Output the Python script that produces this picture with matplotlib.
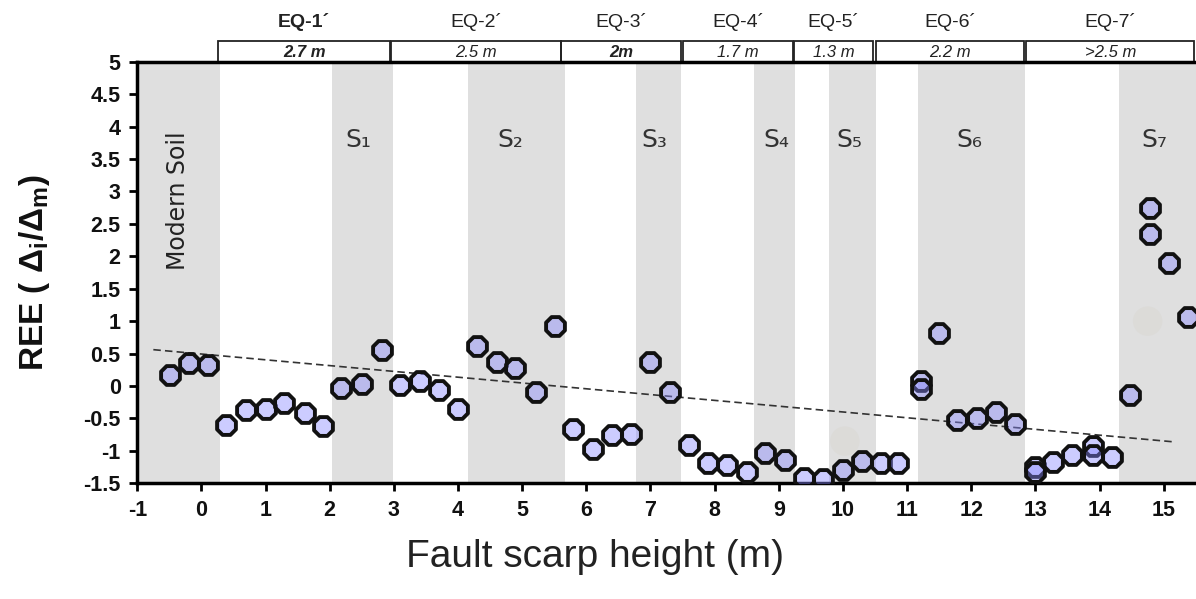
import matplotlib
matplotlib.use("Agg")
import matplotlib.pyplot as plt
from matplotlib.patches import Rectangle
import matplotlib.transforms as mtransforms

plt.rcParams['font.family'] = ['Liberation Sans', 'DejaVu Sans']
plt.rcParams['axes.unicode_minus'] = False

# ---- data ----
pts_x = [-0.49, -0.19, 0.10, 0.39, 0.70, 1.00, 1.29, 1.61, 1.90, 2.18, 2.50, 2.81,
         3.09, 3.40, 3.70, 4.00, 4.30, 4.60, 4.89, 5.21, 5.51, 5.79, 6.10, 6.40,
         6.69, 6.99, 7.30, 7.60, 7.90, 8.20, 8.50, 8.78, 9.10, 9.40, 9.69, 10.00,
         10.30, 10.59, 10.86, 11.21, 11.21, 11.49, 11.78, 12.09, 12.38, 12.68,
         13.00, 13.00, 13.28, 13.57, 13.90, 13.90, 14.19, 14.48, 14.79, 14.79,
         15.09, 15.38]
pts_y = [0.17, 0.35, 0.32, -0.60, -0.37, -0.35, -0.27, -0.41, -0.62, -0.03, 0.03, 0.55,
         0.01, 0.08, -0.06, -0.36, 0.61, 0.37, 0.27, -0.09, 0.92, -0.67, -0.97, -0.76,
         -0.74, 0.37, -0.09, -0.91, -1.19, -1.22, -1.32, -1.04, -1.14, -1.42, -1.44, -1.30,
         -1.15, -1.19, -1.19, 0.07, -0.05, 0.81, -0.52, -0.50, -0.40, -0.59,
         -1.25, -1.32, -1.17, -1.07, -0.92, -1.07, -1.10, -0.14, 2.74, 2.34,
         1.89, 1.07]
ghost_x = [10.03, 14.75]
ghost_y = [-0.85, 1.00]
trend_x = [-0.75, 15.14]
trend_y = [0.56, -0.86]

band_starts = [-1.0, 2.04, 4.16, 6.77, 8.61, 9.79, 11.17, 14.31]
band_ends = [0.29, 2.99, 5.67, 7.48, 9.26, 10.51, 12.84, 15.6]
soil_labels = ['S₁', 'S₂', 'S₃', 'S₄', 'S₅', 'S₆', 'S₇']
soil_label_x = [2.44, 4.81, 7.06, 8.97, 10.10, 11.97, 14.85]

eq_names = ['EQ-1´', 'EQ-2´', 'EQ-3´', 'EQ-4´', 'EQ-5´', 'EQ-6´', 'EQ-7´']
eq_slips = ['2.7 m', '2.5 m', '2m', '1.7 m', '1.3 m', '2.2 m', '>2.5 m']
eq_starts = [0.26, 2.96, 5.61, 7.51, 9.24, 10.52, 12.86]
eq_ends = [2.94, 5.61, 7.48, 9.22, 10.47, 12.83, 15.48]
eq_name_bold = [True, False, False, False, False, False, False]
eq_slip_bold = [True, False, True, False, False, False, False]

x_ticks = list(range(-1, 16))
y_ticks = [-1.5, -1, -0.5, 0, 0.5, 1, 1.5, 2, 2.5, 3, 3.5, 4, 4.5, 5]
y_tick_labels = ['-1.5', '-1', '-0.5', '0', '0.5', '1', '1.5', '2', '2.5', '3', '3.5', '4', '4.5', '5']

# ---- figure ----
fig = plt.figure(figsize=(11.96, 5.99), dpi=100)
ax = fig.add_axes([0.1148, 0.1932, 0.885, 0.7038])
ax.set_xlim(-1, 15.5)
ax.set_ylim(-1.5, 5)

for s, e in zip(band_starts, band_ends):
    ax.axvspan(s, e, color='#dfdfdf', lw=0, zorder=0)

ax.plot(trend_x, trend_y, ls=(0, (4.5, 2.5)), color='#333333', lw=1.2, zorder=2)

ax.scatter(ghost_x, ghost_y, s=450, marker='o', color='#dcdbd8', edgecolors='none', zorder=1.5)
ax.scatter(pts_x, pts_y, s=215, marker='8', facecolors=[(0.53, 0.53, 1.0, 0.42)],
           edgecolors='#111111', linewidths=2.8, zorder=3)

# labels inside plot
ax.text(-0.36, 2.86, 'Modern Soil', rotation=90, ha='center', va='center',
        fontsize=17, family='DejaVu Sans', color='#222222')
for lab, lx in zip(soil_labels, soil_label_x):
    ax.text(lx, 3.79, lab, ha='center', va='center', fontsize=18,
            family='DejaVu Sans', color='#333333')

# top boxes
trans = mtransforms.blended_transform_factory(ax.transData, ax.transAxes)
for name, slip, s, e, nb, sb in zip(eq_names, eq_slips, eq_starts, eq_ends,
                                    eq_name_bold, eq_slip_bold):
    ax.add_patch(Rectangle((s, 1.0), e - s, 0.05, transform=trans, fill=False,
                           edgecolor='#222222', lw=1.3, clip_on=False))
    ax.text((s + e) / 2, 1.021, slip, transform=trans, ha='center', va='center',
            fontsize=12, style='italic', fontweight='bold' if sb else 'normal',
            color='#222222')
    ax.text((s + e) / 2, 1.094, name, transform=trans, ha='center', va='center',
            fontsize=14, fontweight='bold' if nb else 'normal', color='#222222')

# axes styling
for side in ['left', 'bottom', 'top']:
    ax.spines[side].set_linewidth(2.5)
    ax.spines[side].set_color('black')
ax.spines['right'].set_visible(False)

ax.set_xticks(x_ticks)
ax.set_xticklabels([str(t) for t in x_ticks])
ax.set_yticks(y_ticks)
ax.set_yticklabels(y_tick_labels)
ax.tick_params(axis='both', direction='out', length=6, width=2, labelsize=15.5, pad=6)
for lbl in ax.get_xticklabels() + ax.get_yticklabels():
    lbl.set_fontweight('bold')
    lbl.set_color('#111111')

ax.text(0.432, -0.175, 'Fault scarp height (m)', transform=ax.transAxes,
        ha='center', va='center', fontsize=28, color='#222222')
ax.text(-0.097, 0.5, 'REE ( Δ$_\\mathregular{i}$/Δ$_\\mathregular{m}$)', transform=ax.transAxes,
        ha='center', va='center', rotation=90, fontsize=24, fontweight='bold', color='#111111')

fig.savefig('out.png', dpi=100)
